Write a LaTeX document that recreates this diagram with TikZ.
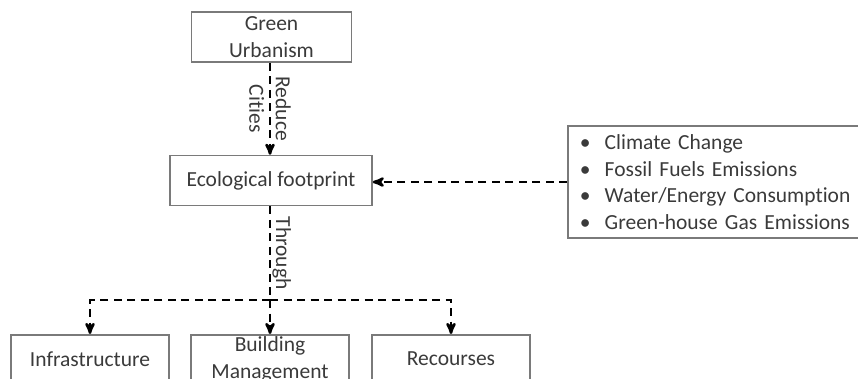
\documentclass[tikz,border=0pt]{standalone}
\usepackage{fontspec}
\setmainfont{Carlito}[Ligatures={NoCommon,NoRare}]
\usepackage{tikz}
\usetikzlibrary{arrows}

\definecolor{txtgray}{HTML}{3A3A3A}
\definecolor{boxgray}{HTML}{7A7A7A}

\newcommand{\itm}{\makebox[25pt][l]{\textbullet}}

\begin{document}
\begin{tikzpicture}[x=1pt,y=-1pt,>=stealth',
  main node/.style={draw=boxgray,line width=1.5pt,text=txtgray,font=\fontsize{21.5}{26.5}\selectfont,align=center,inner sep=2pt},
  link/.style={->,line width=2.6pt,dash pattern=on 8pt off 5.5pt},
  every node/.style={font=\fontsize{21.5}{26.5}\selectfont,text=txtgray}]

  \useasboundingbox (0,0) rectangle (858,378);

  \node[main node,minimum width=160pt,minimum height=50pt] (gu) at (271.5,37) {Green\\Urbanism};
  \node[main node,minimum width=202pt,minimum height=50pt] (eco) at (271,180.5) {Ecological footprint};
  \node[main node,anchor=west,minimum width=310pt,minimum height=112pt,text width=286pt,align=left,inner xsep=8pt] (list) at (567,182)
    {\itm Climate Change\\\itm Fossil Fuels Emissions\\\itm Water/Energy Consumption\\\itm Green-house Gas Emissions};

  \node[main node,anchor=north,minimum width=158pt,minimum height=48pt] (infra) at (90,334) {Infrastructure};
  \node[main node,anchor=north,minimum width=158pt,minimum height=48pt] (bm) at (270,334) {Building\\Management};
  \node[main node,anchor=north,minimum width=158pt,minimum height=48pt] (rec) at (451,334) {Recourses};

  \coordinate (j) at (270,300);

  \draw[link] (gu.south -| 270,0) -- node[sloped,midway,align=center] {Reduce\\Cities} (eco.north -| 270,0);
  \draw[link] (list.west) -- (list.west -| eco.east);
  \draw[line width=2.6pt,dash pattern=on 8pt off 5.5pt] (eco.south -| j) -- node[sloped,midway,above,inner sep=1pt] {Through} (j);
  \draw[link] (j) -| (infra.north);
  \draw[link] (j) -- (bm.north -| j);
  \draw[link] (j) -| (rec.north);
\end{tikzpicture}
\end{document}
